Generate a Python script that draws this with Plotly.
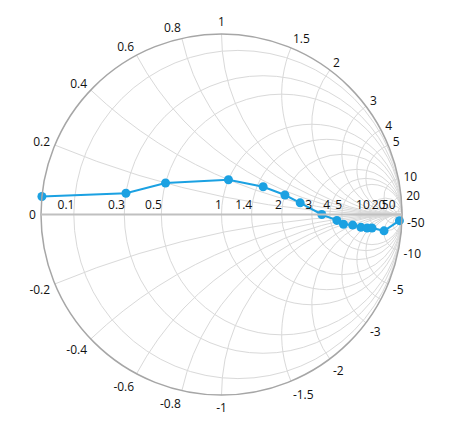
import plotly.graph_objects as go

resistance = [0, 0.3, 0.5, 1.0, 1.5, 2.0, 2.5, 3.5, 4.5, 5.0, 6.0, 7.0, 8.0, 9.0, 10.0, 20.0]
reactance = [0.05, 0.1, 0.2, 0.4, 0.5, 0.5, 0.4, 0.0, -0.5, -1.0, -1.5, -2.5, -3.5, -4.5, -10.0, -50.0]

real_ticks = [0.1, 0.3, 0.5, 1, 1.4, 2, 3, 4, 5, 10, 20, 50]
imag_pos = [0.2, 0.4, 0.6, 0.8, 1, 1.5, 2, 3, 4, 5, 10, 20, 50]
imag_ticks = [-v for v in imag_pos[::-1]] + [0] + imag_pos
hidden_imag = ["50", "\u221220", "\u22124"]

NB = "\u00a0"
# right-align real-axis labels at their grid crossing (pad with no-break spaces)
real_alias = {}
for v in real_ticks:
    s = str(v)
    n = round(sum(2.2 if c.isdigit() else 1.0 for c in s))
    real_alias[s] = s + NB * n

imag_alias = {}
for v in imag_pos:
    s = str(v)
    imag_alias["\u2212" + s] = "-" + s
for s in hidden_imag:
    imag_alias[s] = ""

fig = go.Figure()
fig.add_trace(go.Scattersmith(
    real=resistance, imag=reactance, mode="lines+markers",
    line=dict(color="#1BA1E2", width=2),
    marker=dict(color="#1BA1E2", size=9),
    showlegend=False, hoverinfo="skip",
))

fig.update_layout(
    width=459, height=428,
    margin=dict(l=41, r=57, t=34, b=33),
    paper_bgcolor="white",
    font=dict(family="Open Sans", size=12, color="#111111"),
    smith=dict(
        bgcolor="white",
        realaxis=dict(
            tickvals=real_ticks, tickangle=0, side="top",
            showline=True, linecolor="#C0C0C0", linewidth=2,
            gridcolor="#D9D9D9", gridwidth=1, ticks="",
            labelalias=real_alias,
            tickfont=dict(size=12, color="#111111"),
        ),
        imaginaryaxis=dict(
            tickvals=imag_ticks,
            showline=True, linecolor="#A6A6A6", linewidth=1.5,
            gridcolor="#D9D9D9", gridwidth=1,
            ticks="outside", ticklen=2, tickcolor="rgba(0,0,0,0)",
            labelalias=imag_alias,
            tickfont=dict(size=12, color="#111111"),
        ),
    ),
)

# the reference has no infinity label at the right end of the chart
post = ("document.querySelectorAll('text').forEach(function(t){"
        "if(t.textContent==='\\u221e'){t.style.display='none';}});")
fig.write_html("out.html", post_script=post)
